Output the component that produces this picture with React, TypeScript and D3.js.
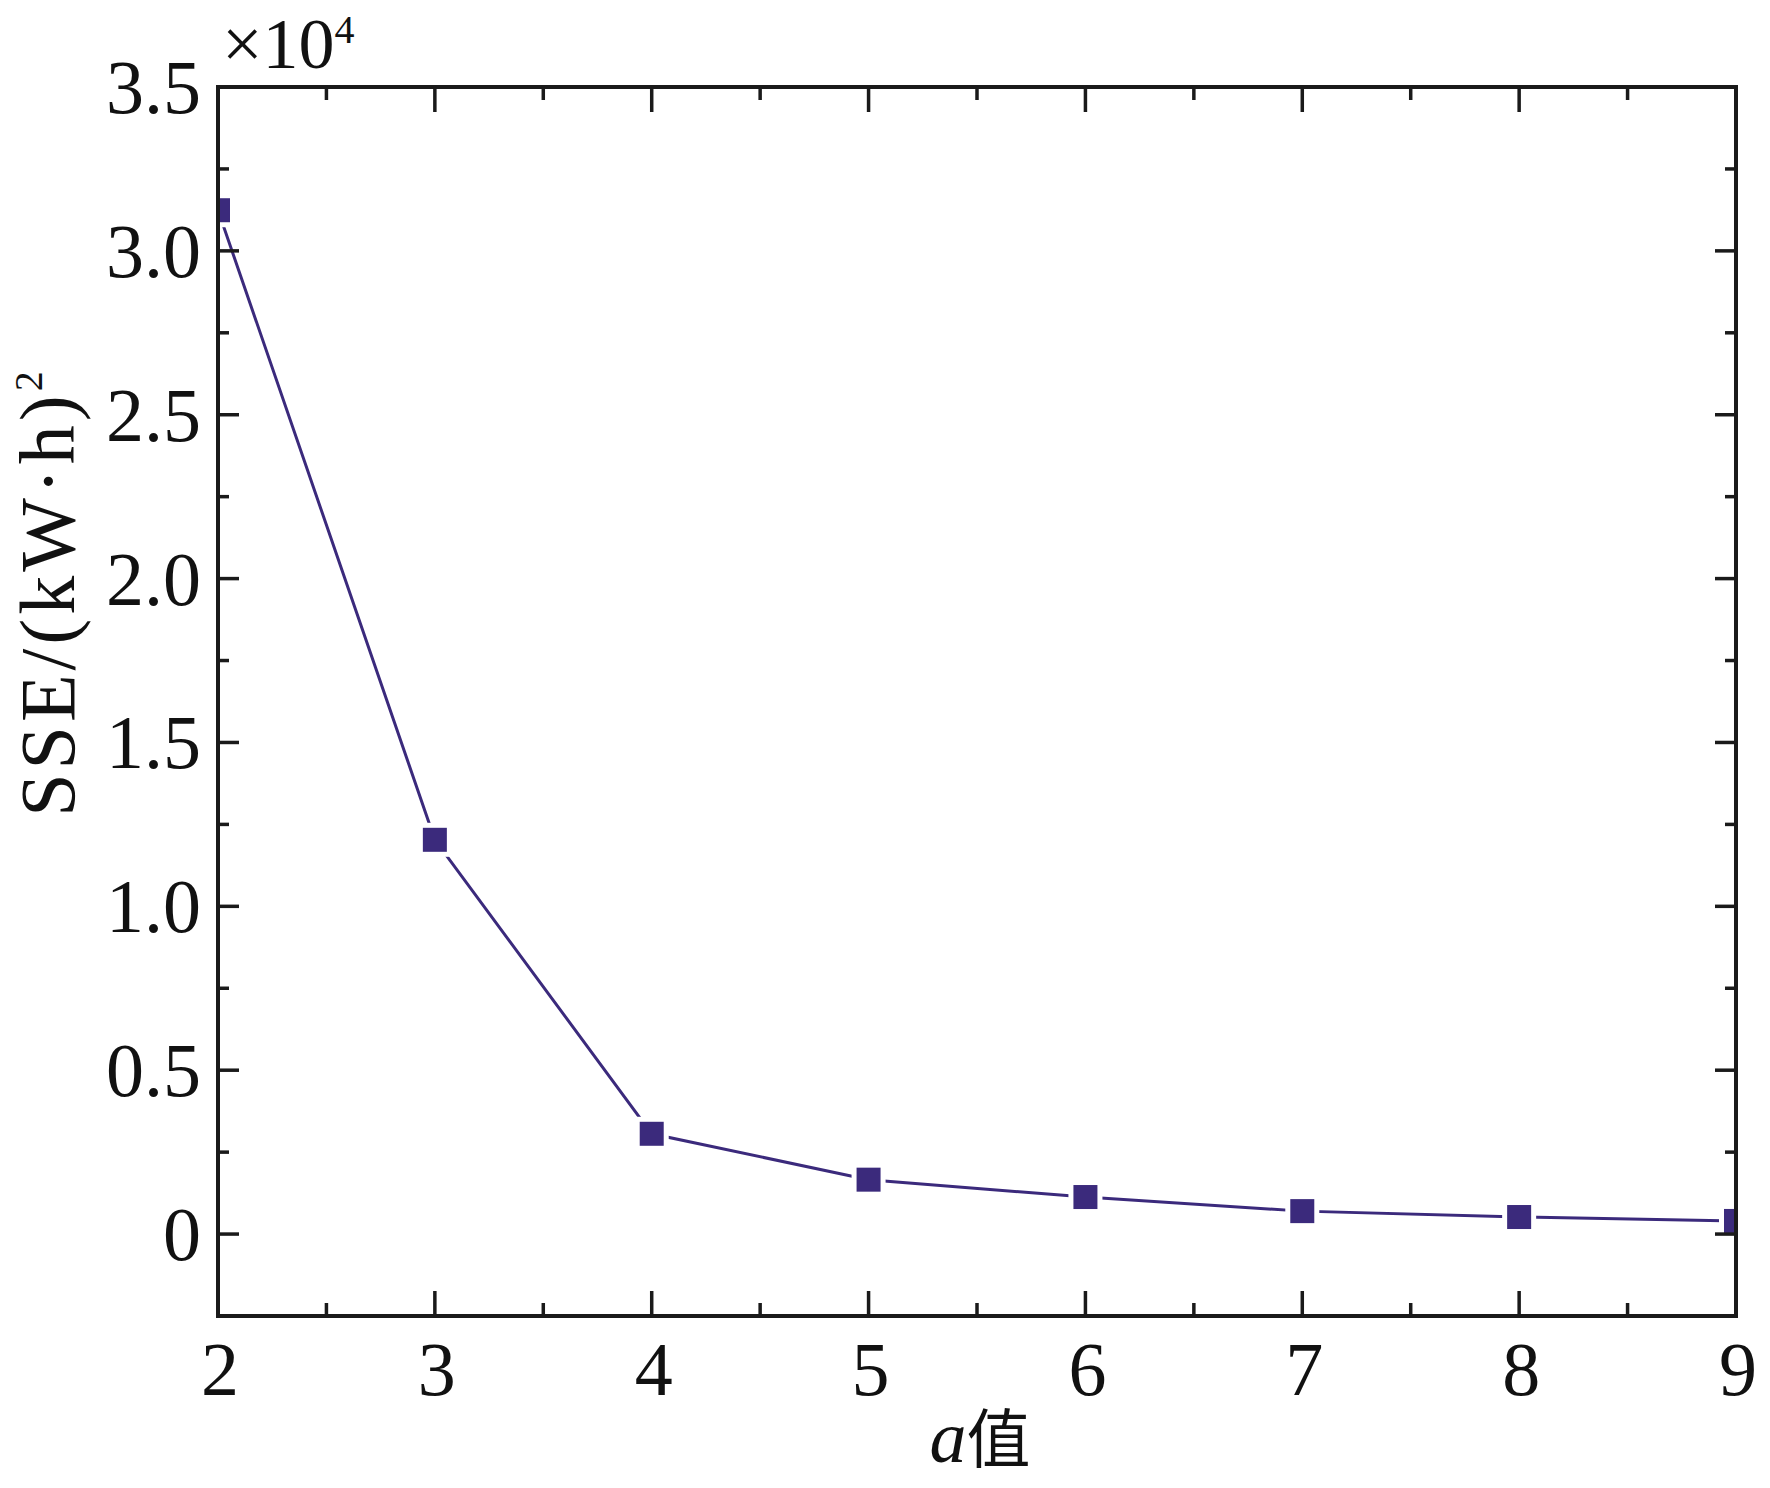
import React from "react";
import * as d3 from "d3";

const xValues = [2, 3, 4, 5, 6, 7, 8, 9];
const sseValues = [3.124, 1.203, 0.306, 0.166, 0.113, 0.07, 0.052, 0.04];
const xTickValues = [2, 3, 4, 5, 6, 7, 8, 9];
const xTickLabels = ["2", "3", "4", "5", "6", "7", "8", "9"];
const yTickValues = [0, 0.5, 1.0, 1.5, 2.0, 2.5, 3.0, 3.5];
const yTickLabels = ["0", "0.5", "1.0", "1.5", "2.0", "2.5", "3.0", "3.5"];
const xMinorTicks = [2.5, 3.5, 4.5, 5.5, 6.5, 7.5, 8.5];
const yMinorTicks = [0.25, 0.75, 1.25, 1.75, 2.25, 2.75, 3.25];

const W = 1770;
const H = 1488;
const L = 218, R = 1736, T = 87, B = 1316;
const FONT = "Liberation Serif, Times New Roman, Times, serif";
const INK = "#1a1a1a";
const PURPLE = "#3b2a7c";

export default function App() {
  const x = d3.scaleLinear().domain([2, 9]).range([L, R]);
  const y = d3.scaleLinear().domain([-0.25, 3.5]).range([B, T]);
  const pts = xValues.map((v, i) => [v, sseValues[i]] as [number, number]);
  const line = d3
    .line<[number, number]>()
    .x((d) => x(d[0]))
    .y((d) => y(d[1]));
  const ms = 24;
  const xMajLen = 25, xMinLen = 13, yMajLen = 21, yMinLen = 11;
  const txt = { fontFamily: FONT, fill: "#111" } as React.CSSProperties;
  return (
    <svg
      width={W}
      height={H}
      style={{ position: "absolute", left: 0, top: 0, background: "#fff" }}
    >
      <defs>
        <clipPath id="plotclip">
          <rect x={L} y={T} width={R - L} height={B - T} />
        </clipPath>
      </defs>
      <rect x={0} y={0} width={W} height={H} fill="#fff" />
      <g clipPath="url(#plotclip)">
        <path d={line(pts) || ""} fill="none" stroke={PURPLE} strokeWidth={3} />
        {pts.map((d, i) => (
          <rect
            key={"h" + i}
            x={x(d[0]) - ms / 2 - 5}
            y={y(d[1]) - ms / 2 - 5}
            width={ms + 10}
            height={ms + 10}
            fill="#fff"
          />
        ))}
        {pts.map((d, i) => (
          <rect
            key={"m" + i}
            x={x(d[0]) - ms / 2}
            y={y(d[1]) - ms / 2}
            width={ms}
            height={ms}
            fill={PURPLE}
          />
        ))}
      </g>
      <g stroke={INK} strokeWidth={3.5}>
        {xTickValues.map((v) => (
          <g key={"xt" + v}>
            <line x1={x(v)} x2={x(v)} y1={B} y2={B - xMajLen} />
            <line x1={x(v)} x2={x(v)} y1={T} y2={T + xMajLen} />
          </g>
        ))}
        {xMinorTicks.map((v) => (
          <g key={"xm" + v}>
            <line x1={x(v)} x2={x(v)} y1={B} y2={B - xMinLen} />
            <line x1={x(v)} x2={x(v)} y1={T} y2={T + xMinLen} />
          </g>
        ))}
        {yTickValues.map((v) => (
          <g key={"yt" + v}>
            <line x1={L} x2={L + yMajLen} y1={y(v)} y2={y(v)} />
            <line x1={R} x2={R - yMajLen} y1={y(v)} y2={y(v)} />
          </g>
        ))}
        {yMinorTicks.map((v) => (
          <g key={"ym" + v}>
            <line x1={L} x2={L + yMinLen} y1={y(v)} y2={y(v)} />
            <line x1={R} x2={R - yMinLen} y1={y(v)} y2={y(v)} />
          </g>
        ))}
      </g>
      <rect
        x={L}
        y={T}
        width={R - L}
        height={B - T}
        fill="none"
        stroke={INK}
        strokeWidth={4}
      />
      <g style={{ ...txt, fontSize: 76 }}>
        {xTickValues.map((v, i) => (
          <text key={"xl" + v} x={x(v) + 2} y={1395} textAnchor="middle">
            {xTickLabels[i]}
          </text>
        ))}
        {yTickValues.map((v, i) => (
          <text key={"yl" + v} x={201} y={y(v) + 26} textAnchor="end">
            {yTickLabels[i]}
          </text>
        ))}
      </g>
      <text x={222} y={68} style={{ ...txt, fontSize: 72 }}>
        ×10
        <tspan style={{ fontSize: 40 }} dy={-25}>4</tspan>
      </text>
      <text
        x={980}
        y={1462}
        textAnchor="middle"
        style={{ ...txt, fontSize: 74 }}
      >
        <tspan style={{ fontStyle: "italic" }}>a</tspan>
        <tspan style={{ fontFamily: "Noto Sans CJK SC, sans-serif", fontSize: 64 }}>值</tspan>
      </text>
      <text
        transform={`translate(74, 592) rotate(-90)`}
        textAnchor="middle"
        style={{ ...txt, fontSize: 78, letterSpacing: 4 }}
      >
        SSE/(kW·h)
        <tspan style={{ fontSize: 40 }} dy={-32}>2</tspan>
      </text>
    </svg>
  );
}
